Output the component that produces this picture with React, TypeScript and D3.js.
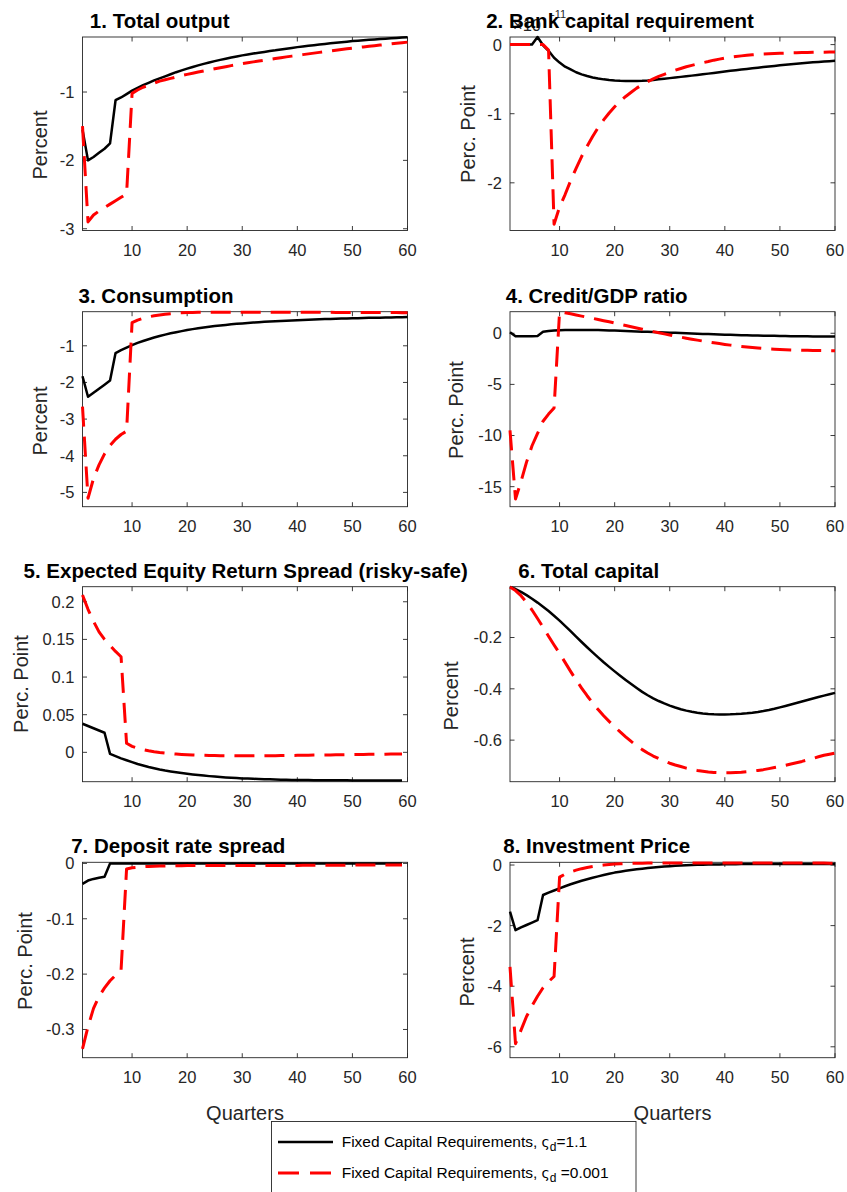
import React from "react";
import * as d3 from "d3";

const W = 847;
const H = 1192;

// Impulse responses by quarter (1..60). "High" = ς_d 1.1, "Low" = ς_d 0.001.
const outputHigh = [
  -1.55, -2.0, -1.95, -1.89, -1.83, -1.75, -1.12, -1.08, -1.03, -0.98,
  -0.94, -0.9, -0.865, -0.83, -0.8, -0.77, -0.74, -0.71, -0.684, -0.658,
  -0.633, -0.61, -0.588, -0.567, -0.548, -0.53, -0.512, -0.495, -0.479, -0.464,
  -0.45, -0.437, -0.425, -0.413, -0.4, -0.39, -0.378, -0.366, -0.355, -0.343,
  -0.333, -0.324, -0.315, -0.306, -0.297, -0.288, -0.28, -0.271, -0.263, -0.255,
  -0.249, -0.243, -0.237, -0.231, -0.225, -0.219, -0.214, -0.208, -0.203, -0.197,
];
const outputLow = [
  -1.5, -2.9, -2.8, -2.74, -2.69, -2.64, -2.59, -2.54, -2.49, -1.02,
  -0.97, -0.93, -0.9, -0.87, -0.84, -0.82, -0.8, -0.78, -0.76, -0.742,
  -0.725, -0.708, -0.692, -0.676, -0.66, -0.645, -0.63, -0.614, -0.6, -0.585,
  -0.572, -0.559, -0.546, -0.534, -0.522, -0.51, -0.498, -0.486, -0.475, -0.464,
  -0.453, -0.442, -0.431, -0.42, -0.409, -0.399, -0.389, -0.378, -0.368, -0.358,
  -0.349, -0.34, -0.331, -0.322, -0.313, -0.305, -0.296, -0.287, -0.279, -0.27,
];
const bankReqHigh = [
  0, 0, 0, 0, 0, 0.11, -0.01, -0.09, -0.19, -0.26,
  -0.32, -0.36, -0.4, -0.43, -0.455, -0.475, -0.49, -0.503, -0.512, -0.519,
  -0.524, -0.527, -0.528, -0.527, -0.524, -0.519, -0.512, -0.503, -0.494, -0.485,
  -0.476, -0.467, -0.458, -0.449, -0.44, -0.43, -0.42, -0.41, -0.4, -0.39,
  -0.38, -0.37, -0.361, -0.352, -0.343, -0.334, -0.325, -0.316, -0.308, -0.3,
  -0.292, -0.284, -0.277, -0.27, -0.263, -0.257, -0.251, -0.245, -0.24, -0.235,
];
const bankReqLow = [
  0, 0, 0, 0, 0, 0, 0, -0.08, -2.6, -2.35,
  -2.17, -1.97, -1.79, -1.62, -1.47, -1.33, -1.2, -1.09, -0.99, -0.9,
  -0.82, -0.75, -0.69, -0.63, -0.58, -0.535, -0.495, -0.46, -0.43, -0.4,
  -0.37, -0.345, -0.32, -0.3, -0.28, -0.262, -0.245, -0.225, -0.21, -0.195,
  -0.182, -0.172, -0.163, -0.155, -0.148, -0.142, -0.137, -0.133, -0.129, -0.126,
  -0.123, -0.12, -0.118, -0.116, -0.114, -0.112, -0.11, -0.109, -0.108, -0.107,
];
const consHigh = [
  -1.83, -2.39, -2.28, -2.17, -2.06, -1.95, -1.2, -1.12, -1.05, -0.98,
  -0.92, -0.87, -0.82, -0.775, -0.735, -0.695, -0.66, -0.63, -0.6, -0.57,
  -0.545, -0.522, -0.5, -0.48, -0.462, -0.445, -0.43, -0.415, -0.402, -0.39,
  -0.378, -0.367, -0.357, -0.347, -0.338, -0.33, -0.322, -0.315, -0.308, -0.3,
  -0.294, -0.288, -0.282, -0.277, -0.272, -0.267, -0.262, -0.258, -0.254, -0.25,
  -0.246, -0.242, -0.238, -0.235, -0.232, -0.229, -0.226, -0.223, -0.22, -0.217,
];
const consLow = [
  -2.66, -5.16, -4.62, -4.25, -3.95, -3.72, -3.55, -3.42, -3.33, -0.37,
  -0.3, -0.25, -0.21, -0.18, -0.16, -0.14, -0.125, -0.11, -0.1, -0.095,
  -0.09, -0.088, -0.086, -0.085, -0.084, -0.083, -0.082, -0.082, -0.082, -0.082,
  -0.082, -0.082, -0.083, -0.083, -0.083, -0.084, -0.084, -0.084, -0.085, -0.085,
  -0.086, -0.086, -0.087, -0.087, -0.088, -0.088, -0.089, -0.089, -0.09, -0.09,
  -0.091, -0.091, -0.092, -0.093, -0.093, -0.094, -0.095, -0.095, -0.096, -0.097,
];
const creditHigh = [
  0.1, -0.3, -0.29, -0.28, -0.28, -0.27, 0.15, 0.22, 0.26, 0.29,
  0.31, 0.32, 0.33, 0.33, 0.33, 0.32, 0.31, 0.3, 0.28, 0.26,
  0.24, 0.22, 0.2, 0.18, 0.16, 0.14, 0.12, 0.1, 0.08, 0.06,
  0.04, 0.02, 0.0, -0.02, -0.04, -0.06, -0.08, -0.1, -0.12, -0.14,
  -0.155, -0.17, -0.185, -0.2, -0.21, -0.22, -0.23, -0.24, -0.25, -0.26,
  -0.27, -0.28, -0.285, -0.29, -0.3, -0.305, -0.31, -0.315, -0.32, -0.325,
];
const creditLow = [
  -9.5, -16.2, -14.5, -12.6, -11.0, -9.8, -8.6, -7.9, -7.3, 2.1,
  2.0, 1.9, 1.79, 1.68, 1.57, 1.46, 1.35, 1.23, 1.12, 1.0,
  0.88, 0.76, 0.64, 0.52, 0.4, 0.28, 0.16, 0.05, -0.06, -0.17,
  -0.28, -0.38, -0.48, -0.58, -0.67, -0.76, -0.85, -0.93, -1.01, -1.09,
  -1.16, -1.23, -1.29, -1.35, -1.4, -1.45, -1.49, -1.53, -1.56, -1.59,
  -1.61, -1.63, -1.645, -1.66, -1.67, -1.68, -1.69, -1.695, -1.7, -1.7,
];
// quarters 1..59
const spreadHigh = [
  0.038, 0.035, 0.032, 0.029, 0.026, -0.002, -0.005, -0.008, -0.0105, -0.013,
  -0.0155, -0.0175, -0.0195, -0.0212, -0.0228, -0.0242, -0.0254, -0.0265, -0.0275, -0.0284,
  -0.0293, -0.0301, -0.0309, -0.0316, -0.0322, -0.0328, -0.0333, -0.0338, -0.0342, -0.0346,
  -0.0349, -0.0352, -0.0355, -0.0357, -0.0359, -0.0361, -0.0363, -0.0364, -0.0366, -0.0367,
  -0.0368, -0.0369, -0.037, -0.037, -0.0371, -0.0371, -0.0372, -0.0372, -0.0372, -0.0373,
  -0.0373, -0.0373, -0.0374, -0.0374, -0.0374, -0.0374, -0.0375, -0.0375, -0.0375,
];
const spreadLow = [
  0.209, 0.19, 0.174, 0.16, 0.15, 0.142, 0.134, 0.127, 0.012, 0.008,
  0.0055, 0.0035, 0.002, 0.0008, -0.0002, -0.001, -0.0017, -0.0023, -0.0028, -0.0032,
  -0.0035, -0.0038, -0.004, -0.0042, -0.0043, -0.0044, -0.0045, -0.0045, -0.0046, -0.0046,
  -0.0046, -0.0046, -0.0045, -0.0045, -0.0044, -0.0044, -0.0043, -0.0042, -0.0041, -0.004,
  -0.0039, -0.0038, -0.0037, -0.0036, -0.0035, -0.0034, -0.0033, -0.0032, -0.0031, -0.003,
  -0.0029, -0.0028, -0.0027, -0.0026, -0.0025, -0.0024, -0.0023, -0.0022, -0.0021,
];
const capitalHigh = [
  -0.003, -0.011, -0.022, -0.035, -0.049, -0.064, -0.08, -0.097, -0.115, -0.134,
  -0.1545, -0.1755, -0.1965, -0.2175, -0.238, -0.258, -0.2775, -0.2965, -0.3145, -0.332,
  -0.349, -0.3655, -0.3815, -0.397, -0.412, -0.425, -0.437, -0.4475, -0.457, -0.4655,
  -0.473, -0.4795, -0.485, -0.4895, -0.493, -0.496, -0.498, -0.4992, -0.4997, -0.4997,
  -0.4994, -0.4986, -0.4973, -0.4955, -0.4932, -0.4902, -0.4866, -0.4824, -0.4776, -0.4722,
  -0.4667, -0.4611, -0.4554, -0.4496, -0.4437, -0.4379, -0.4322, -0.4266, -0.4211, -0.4157,
];
const capitalLow = [
  -0.003, -0.017, -0.037, -0.063, -0.093, -0.126, -0.16, -0.195, -0.229, -0.262,
  -0.297, -0.332, -0.366, -0.397, -0.427, -0.455, -0.481, -0.505, -0.527, -0.548,
  -0.568, -0.587, -0.605, -0.622, -0.637, -0.65, -0.662, -0.672, -0.681, -0.69,
  -0.697, -0.703, -0.709, -0.714, -0.718, -0.721, -0.724, -0.726, -0.727, -0.727,
  -0.727, -0.726, -0.725, -0.723, -0.721, -0.718, -0.715, -0.711, -0.707, -0.703,
  -0.698, -0.693, -0.688, -0.683, -0.677, -0.671, -0.665, -0.659, -0.655, -0.651,
];
// quarters 1..59
const depositHigh = [
  -0.037, -0.031, -0.028, -0.026, -0.024, 0, 0, 0, 0, 0,
  0, 0, 0, 0, 0, 0, 0, 0, 0, 0,
  0, 0, 0, 0, 0, 0, 0, 0, 0, 0,
  0, 0, 0, 0, 0, 0, 0, 0, 0, 0,
  0, 0, 0, 0, 0, 0, 0, 0, 0, 0,
  0, 0, 0, 0, 0, 0, 0, 0, 0,
];
const depositLow = [
  -0.335, -0.295, -0.262, -0.24, -0.225, -0.212, -0.202, -0.193, -0.01, -0.008,
  -0.007, -0.006, -0.0055, -0.005, -0.0047, -0.0045, -0.0043, -0.0042, -0.0041, -0.004,
  -0.004, -0.004, -0.004, -0.004, -0.004, -0.004, -0.004, -0.004, -0.004, -0.004,
  -0.004, -0.004, -0.0039, -0.0039, -0.0038, -0.0038, -0.0037, -0.0037, -0.0036, -0.0036,
  -0.0035, -0.0035, -0.0034, -0.0034, -0.0033, -0.0033, -0.0032, -0.0032, -0.0031, -0.0031,
  -0.003, -0.003, -0.003, -0.003, -0.003, -0.003, -0.003, -0.003, -0.003,
];
const priceHigh = [
  -1.54, -2.15, -2.06, -1.98, -1.9, -1.82, -0.99, -0.91, -0.84, -0.77,
  -0.7, -0.635, -0.575, -0.52, -0.47, -0.42, -0.375, -0.33, -0.29, -0.25,
  -0.22, -0.19, -0.165, -0.14, -0.12, -0.1, -0.08, -0.065, -0.05, -0.037,
  -0.026, -0.016, -0.008, -0.001, 0.005, 0.01, 0.014, 0.018, 0.021, 0.024,
  0.026, 0.028, 0.03, 0.031, 0.032, 0.033, 0.034, 0.035, 0.035, 0.036,
  0.036, 0.036, 0.037, 0.037, 0.037, 0.037, 0.037, 0.037, 0.037, 0.037,
];
const priceLow = [
  -3.36, -5.9, -5.45, -5.0, -4.65, -4.33, -4.05, -3.85, -3.68, -0.4,
  -0.3, -0.23, -0.17, -0.12, -0.08, -0.05, -0.02, 0.0, 0.015, 0.03,
  0.04, 0.048, 0.054, 0.058, 0.061, 0.063, 0.064, 0.065, 0.066, 0.066,
  0.067, 0.067, 0.067, 0.067, 0.067, 0.067, 0.067, 0.067, 0.067, 0.067,
  0.066, 0.066, 0.066, 0.066, 0.066, 0.065, 0.065, 0.065, 0.065, 0.065,
  0.064, 0.064, 0.064, 0.064, 0.063, 0.063, 0.063, 0.063, 0.062, 0.062,
];

const xTicks = [10, 20, 30, 40, 50, 60];
const titles = [
  "1. Total output",
  "2. Bank capital requirement",
  "3. Consumption",
  "4. Credit/GDP ratio",
  "5. Expected Equity Return Spread (risky-safe)",
  "6. Total capital",
  "7. Deposit rate spread",
  "8. Investment Price",
];
const yLabels = ["Percent", "Perc. Point", "Percent", "Perc. Point", "Perc. Point", "Percent", "Perc. Point", "Percent"];
const yTickSets = [
  [-3, -2, -1],
  [-2, -1, 0],
  [-5, -4, -3, -2, -1],
  [-15, -10, -5, 0],
  [0, 0.05, 0.1, 0.15, 0.2],
  [-0.6, -0.4, -0.2],
  [-0.3, -0.2, -0.1, 0],
  [-6, -4, -2, 0],
];
const yDomains: [number, number][] = [
  [-3.026, -0.195],
  [-2.69, 0.11],
  [-5.39, -0.07],
  [-16.96, 2.11],
  [-0.039, 0.22],
  [-0.762, -0.002],
  [-0.351, 0.002],
  [-6.36, 0.09],
];
const highSeries = [outputHigh, bankReqHigh, consHigh, creditHigh, spreadHigh, capitalHigh, depositHigh, priceHigh];
const lowSeries = [outputLow, bankReqLow, consLow, creditLow, spreadLow, capitalLow, depositLow, priceLow];
const legendLabels = ["=1.1", " =0.001"];

// layout
const COLS = [
  { left: 82.5, right: 407.5 },
  { left: 510, right: 835 },
];
const ROWS = [
  { top: 37, bottom: 230.5 },
  { top: 311.7, bottom: 506.7 },
  { top: 586.7, bottom: 781.7 },
  { top: 862.3, bottom: 1057.7 },
];
const titlePos = [
  [159.7, 28.3], [620, 28.3], [156, 303.3], [596.7, 303.3],
  [245.7, 578.3], [588.7, 578.3], [178.3, 853.3], [596.7, 853.3],
];
const labelPos = [
  [47, 145], [475, 134], [46.7, 421], [463, 410],
  [28.3, 684], [458, 696], [31.7, 961], [474, 972],
];

const AX = "#262626";
const FONT = "'Liberation Sans', Arial, Helvetica, sans-serif";
const TICK = 4.5;

function Panel({ i }: { i: number }) {
  const col = COLS[i % 2];
  const row = ROWS[Math.floor(i / 2)];
  const x = d3.scaleLinear().domain([1, 60]).range([col.left, col.right]);
  const y = d3.scaleLinear().domain(yDomains[i]).range([row.bottom, row.top]);
  const line = d3
    .line<number>()
    .x((_, k) => x(k + 1))
    .y((v) => y(v));
  const [tx, ty] = titlePos[i];
  const [lx, ly] = labelPos[i];
  const isBottom = i >= 6;
  return (
    <g>
      {/* y-axis multiplier for the capital requirement panel */}
      {i === 1 && (
        <g fill={AX} fontFamily={FONT}>
          <text x={513} y={30.5} fontSize={16.5}>×10</text>
          <text x={551} y={17.5} fontSize={11}>-11</text>
        </g>
      )}
      <rect
        x={col.left}
        y={row.top}
        width={col.right - col.left}
        height={row.bottom - row.top}
        fill="none"
        stroke={AX}
        strokeWidth={0.9}
      />
      {xTicks.map((t) => (
        <g key={"x" + t}>
          <line x1={x(t)} x2={x(t)} y1={row.bottom} y2={row.bottom - TICK} stroke={AX} strokeWidth={0.9} />
          <line x1={x(t)} x2={x(t)} y1={row.top} y2={row.top + TICK} stroke={AX} strokeWidth={0.9} />
          <text
            x={x(t)}
            y={row.bottom + 25}
            textAnchor="middle"
            fontSize={16.5}
            fill={AX}
            fontFamily={FONT}
          >
            {t}
          </text>
        </g>
      ))}
      {yTickSets[i].map((t) => (
        <g key={"y" + t}>
          <line x1={col.left} x2={col.left + TICK} y1={y(t)} y2={y(t)} stroke={AX} strokeWidth={0.9} />
          <line x1={col.right} x2={col.right - TICK} y1={y(t)} y2={y(t)} stroke={AX} strokeWidth={0.9} />
          <text
            x={col.left - 8}
            y={y(t)}
            dy="0.36em"
            textAnchor="end"
            fontSize={16.5}
            fill={AX}
            fontFamily={FONT}
          >
            {String(t)}
          </text>
        </g>
      ))}
      <path d={line(highSeries[i]) || ""} fill="none" stroke="#000" strokeWidth={2.5} strokeLinejoin="round" />
      <path
        d={line(lowSeries[i]) || ""}
        fill="none"
        stroke="#ff0000"
        strokeWidth={3}
        strokeDasharray="20 10"
        strokeLinejoin="round"
      />
      <text
        x={tx}
        y={ty}
        textAnchor="middle"
        fontSize={20.5}
        fontWeight="bold"
        fill="#000"
        fontFamily={FONT}
      >
        {titles[i]}
      </text>
      <text
        transform={`translate(${lx},${ly}) rotate(-90)`}
        textAnchor="middle"
        fontSize={20}
        fill={AX}
        fontFamily={FONT}
      >
        {yLabels[i]}
      </text>
      {isBottom && (
        <text
          x={(col.left + col.right) / 2}
          y={row.bottom + 62}
          textAnchor="middle"
          fontSize={20}
          fill={AX}
          fontFamily={FONT}
        >
          Quarters
        </text>
      )}
    </g>
  );
}

function Legend() {
  const base = "Fixed Capital Requirements, ";
  return (
    <g fontFamily={FONT} fontSize={15.5} fill="#000">
      <rect x={271.5} y={1121.5} width={364.5} height={80} fill="#fff" stroke={AX} strokeWidth={0.9} />
      <line x1={278} x2={333} y1={1142} y2={1142} stroke="#000" strokeWidth={2.5} />
      <line x1={278} x2={333} y1={1173} y2={1173} stroke="#ff0000" strokeWidth={3} strokeDasharray="21 11" />
      {legendLabels.map((lab, k) => (
        <text key={k} x={341.7} y={1147 + k * 31}>
          {base}
          <tspan fontFamily="'DejaVu Sans', sans-serif" fontSize={14}>ς</tspan>
          <tspan dy={4} fontSize={12}>d</tspan>
          <tspan dy={-4}>{lab}</tspan>
        </text>
      ))}
    </g>
  );
}

export default function App() {
  return (
    <svg
      width={W}
      height={H}
      viewBox={`0 0 ${W} ${H}`}
      style={{ position: "absolute", left: 0, top: 0, background: "#fff" }}
    >
      <rect x={0} y={0} width={W} height={H} fill="#fff" />
      {titles.map((_, i) => (
        <Panel key={i} i={i} />
      ))}
      <Legend />
    </svg>
  );
}
